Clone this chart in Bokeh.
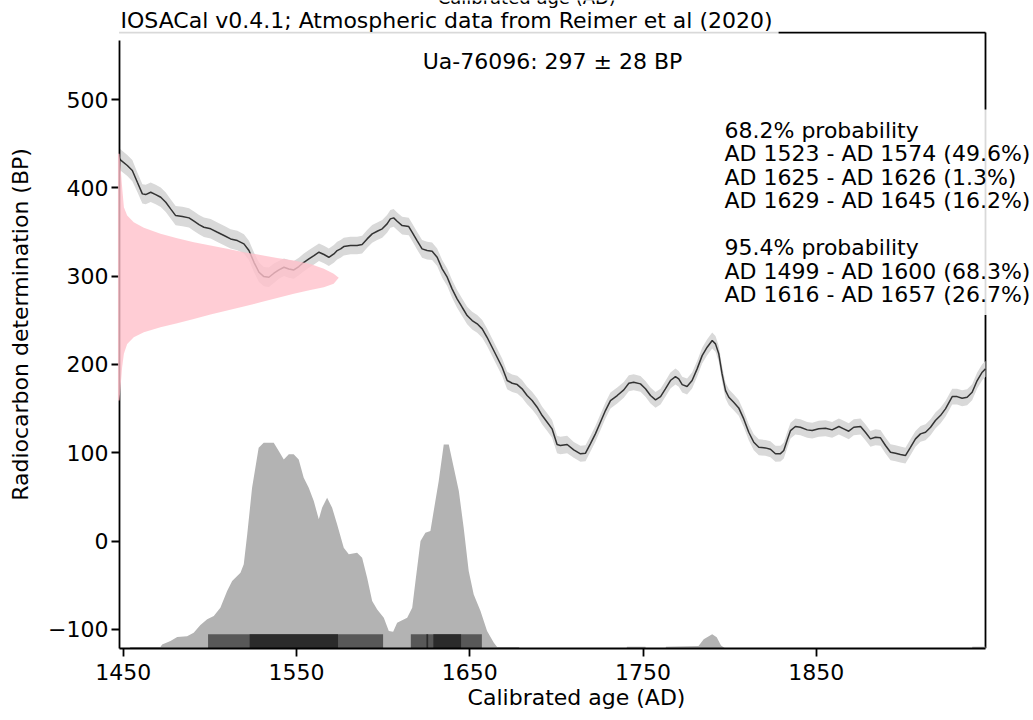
from bokeh.plotting import figure
from bokeh.models import Range1d, FixedTicker, Label, ColumnDataSource
from bokeh.embed import file_html
from bokeh.resources import INLINE

# ---------------- data ----------------
cal_year = [1448.0, 1448.6, 1452.4, 1455.3, 1458.2, 1461.1, 1463.0, 1465.9, 1468.8, 1471.7,
            1474.6, 1477.4, 1480.3, 1484.2, 1488.0, 1490.9, 1493.8, 1496.6, 1500.5, 1504.4,
            1508.2, 1512.0, 1515.9, 1519.7, 1522.6, 1525.5, 1528.4, 1531.2, 1534.1, 1537.0,
            1539.9, 1542.8, 1545.6, 1548.5, 1551.4, 1554.3, 1557.2, 1560.1, 1563.0, 1565.9,
            1568.7, 1571.6, 1573.5, 1575.5, 1577.3, 1581.2, 1585.0, 1587.9, 1590.8, 1593.7,
            1596.6, 1599.5, 1602.3, 1604.2, 1606.1, 1608.1, 1611.0, 1614.8, 1616.8, 1619.6,
            1622.5, 1625.4, 1628.3, 1631.2, 1634.1, 1637.0, 1639.8, 1642.7, 1645.6, 1648.5,
            1651.4, 1654.3, 1657.2, 1660.0, 1662.9, 1665.8, 1668.7, 1671.6, 1674.5, 1677.4,
            1680.2, 1683.1, 1686.0, 1688.9, 1691.8, 1694.7, 1697.5, 1700.4, 1702.3, 1706.2,
            1710.0, 1713.9, 1716.8, 1719.6, 1722.5, 1725.4, 1728.3, 1731.2, 1735.1, 1738.9,
            1741.8, 1744.6, 1748.5, 1751.4, 1754.3, 1757.2, 1760.1, 1762.9, 1765.8, 1768.7,
            1770.6, 1772.6, 1775.4, 1778.3, 1781.2, 1784.1, 1787.0, 1789.9, 1791.8, 1793.7,
            1795.6, 1797.6, 1799.5, 1802.3, 1805.2, 1808.1, 1811.0, 1813.9, 1816.8, 1820.6,
            1823.5, 1826.4, 1829.3, 1831.2, 1833.1, 1835.1, 1837.9, 1840.8, 1844.7, 1847.6,
            1851.4, 1855.3, 1859.1, 1863.0, 1865.8, 1868.7, 1871.6, 1875.5, 1878.3, 1881.2,
            1884.1, 1887.0, 1889.9, 1892.8, 1895.7, 1898.5, 1901.4, 1904.3, 1907.2, 1910.1,
            1913.0, 1915.9, 1918.7, 1921.6, 1924.5, 1928.4, 1931.2, 1934.1, 1937.0, 1939.9,
            1942.8, 1945.7, 1947.6]
cal_bp = [433.0, 431.4, 425.3, 419.6, 406.3, 393.2, 392.4, 395.0, 392.4, 389.4,
          383.7, 376.2, 368.6, 367.5, 366.0, 362.2, 358.4, 355.4, 353.6, 349.7,
          346.0, 342.2, 340.3, 336.6, 329.0, 315.7, 304.4, 299.5, 298.8, 303.3,
          307.1, 310.1, 308.2, 307.1, 310.9, 315.7, 319.6, 323.3, 327.1, 324.5,
          321.4, 325.2, 329.0, 330.9, 333.5, 334.7, 334.7, 335.8, 342.2, 347.9,
          350.9, 353.6, 359.2, 364.9, 366.0, 362.2, 357.3, 356.2, 349.7, 340.3,
          330.9, 329.0, 328.2, 321.4, 308.3, 298.8, 285.6, 274.3, 264.8, 255.4,
          249.7, 246.0, 240.3, 230.8, 219.5, 208.2, 196.8, 181.8, 178.7, 177.2,
          172.4, 164.8, 159.1, 151.6, 142.1, 134.6, 127.1, 109.3, 108.2, 109.3,
          103.3, 98.8, 99.5, 110.1, 121.4, 134.6, 147.8, 159.1, 164.8, 171.2,
          178.7, 179.8, 178.0, 172.4, 164.8, 159.9, 163.6, 172.4, 181.8, 186.3,
          183.7, 177.2, 175.0, 181.8, 195.0, 210.0, 219.5, 227.1, 223.3, 212.0,
          189.3, 170.4, 162.9, 157.2, 150.8, 138.3, 123.2, 111.9, 106.2, 105.5,
          104.0, 98.8, 99.0, 102.5, 113.8, 125.1, 129.7, 128.9, 125.9, 125.1,
          127.1, 127.8, 125.9, 129.7, 127.1, 124.4, 128.9, 129.7, 123.2, 115.7,
          117.6, 116.9, 108.2, 100.6, 99.5, 98.0, 96.8, 106.2, 115.7, 121.4,
          123.2, 128.9, 136.5, 142.1, 149.7, 163.6, 163.6, 161.7, 162.9, 168.5,
          181.8, 191.2, 195.0]
cal_sigma = [12, 12, 12, 12, 11, 11, 11, 11, 11, 11,
             11, 11, 11, 11, 11, 11, 11, 11, 11, 11,
             11, 11, 11, 11, 11, 11, 11, 11, 11, 11,
             10, 10, 10, 10, 10, 10, 10, 10, 10, 10,
             10, 10, 10, 10, 10, 10, 10, 10, 10, 10,
             10, 10, 10, 10, 10, 10, 10, 10, 10, 10,
             10, 10, 10, 10, 10, 10, 10, 10, 10, 10,
             10, 10, 10, 10, 10, 10, 10, 10, 10, 10,
             10, 10, 10, 10, 10, 10, 10, 10, 10, 10,
             9, 9, 9, 9, 9, 9, 9, 9, 9, 9,
             9, 9, 9, 9, 9, 9, 9, 9, 9, 9,
             9, 9, 9, 9, 9, 9, 9, 9, 9, 9,
             9, 9, 9, 9, 9, 9, 9, 9, 9, 9,
             9, 9, 9, 9, 9, 9, 9, 9, 9, 9,
             9, 9, 9, 9, 9, 9, 9, 9, 9, 9,
             9, 9, 9, 9, 9, 9, 9, 9, 9, 9,
             9, 9, 9, 9, 9, 9, 9, 9, 9, 9,
             9, 9, 9]

# calibrated probability (relative to its maximum)
dist_year = [1453.5, 1454.2, 1471.5, 1472.5, 1477.3, 1481.2, 1486.9, 1490.7, 1494.6, 1498.5,
             1502.3, 1506.1, 1510.0, 1512.9, 1517.7, 1519.6, 1521.6, 1524.4, 1526.3, 1528.2,
             1531.1, 1536.9, 1539.8, 1542.7, 1545.6, 1548.4, 1551.3, 1554.2, 1557.1, 1560.0,
             1562.9, 1564.8, 1567.7, 1570.6, 1573.5, 1577.3, 1580.2, 1585.0, 1587.9, 1590.8,
             1593.7, 1596.6, 1600.4, 1603.3, 1605.8, 1608.1, 1611.0, 1613.9, 1616.8, 1618.7,
             1621.6, 1624.4, 1627.3, 1629.2, 1632.1, 1635.0, 1637.9, 1640.8, 1643.7, 1646.5,
             1649.4, 1652.3, 1656.2, 1660.0, 1663.9, 1665.8, 1678.3, 1679.0, 1740.5, 1740.7,
             1751.4, 1751.6, 1763.0, 1763.2, 1782.0, 1785.0, 1789.9, 1792.5, 1795.0, 1797.5,
             1939.8, 1940.0, 1947.6]
dist_dens = [0.0, 0.007, 0.007, 0.020, 0.036, 0.056, 0.059, 0.077, 0.114, 0.142,
             0.158, 0.198, 0.279, 0.328, 0.368, 0.409, 0.555, 0.781, 0.879, 0.976,
             1.000, 1.000, 0.960, 0.919, 0.944, 0.944, 0.919, 0.830, 0.781, 0.717,
             0.628, 0.684, 0.733, 0.684, 0.603, 0.490, 0.458, 0.466, 0.441, 0.344,
             0.231, 0.190, 0.150, 0.085, 0.082, 0.125, 0.137, 0.150, 0.198, 0.328,
             0.522, 0.563, 0.571, 0.668, 0.814, 0.992, 0.992, 0.879, 0.765, 0.587,
             0.377, 0.263, 0.182, 0.085, 0.028, 0.007, 0.007, 0.0, 0.0, 0.008,
             0.008, 0.0, 0.0, 0.008, 0.012, 0.045, 0.069, 0.055, 0.015, 0.0,
             0.0, 0.008, 0.008]

# radiocarbon determination density (relative to its maximum)
pink_bp = [438.5, 400.7, 378.0, 368.6, 361.0, 354.7, 347.9, 342.9, 338.4, 334.7,
           330.9, 327.1, 324.1, 320.7, 317.7, 313.9, 308.3, 302.6, 298.1, 291.3,
           287.4, 284.4, 280.0, 275.4, 270.4, 265.6, 261.0, 256.5, 251.6, 246.7,
           242.1, 236.5, 230.8, 223.3, 212.0, 196.8, 159.1]
pink_dens = [0.0, 0.012, 0.020, 0.035, 0.065, 0.111, 0.187, 0.263, 0.339, 0.415,
             0.491, 0.567, 0.643, 0.719, 0.795, 0.871, 0.932, 0.977, 1.0, 0.977,
             0.932, 0.871, 0.795, 0.719, 0.643, 0.567, 0.491, 0.415, 0.339, 0.263,
             0.187, 0.111, 0.065, 0.035, 0.020, 0.012, 0.0]

hpd95_start = [1499, 1616]
hpd95_end = [1600, 1657]
hpd68_start = [1523, 1625, 1629]
hpd68_end = [1574, 1626, 1645]

x_ticks = [1450, 1550, 1650, 1750, 1850]
y_ticks = [-100, 0, 100, 200, 300, 400, 500]

sample_text = "Ua-76096: 297 \u00b1 28 BP"
title_text = "IOSACal v0.4.1; Atmospheric data from Reimer et al (2020)"
interval_lines = ["68.2% probability",
                  "AD 1523 - AD 1574 (49.6%)",
                  "AD 1625 - AD 1626 (1.3%)",
                  "AD 1629 - AD 1645 (16.2%)",
                  "",
                  "95.4% probability",
                  "AD 1499 - AD 1600 (68.3%)",
                  "AD 1616 - AD 1657 (26.7%)"]

# ---------------- styling ----------------
FONT = "DejaVu Sans"
FS = "22px"
X0, XS, XR = 1447.9, 1947.6, 1975.3      # left edge, right spine, canvas right edge
Y0, YS, YT = -121.7, 575.9, 612.2        # bottom, top spine, canvas top edge
DIST_SCALE = 233.0     # BP units for full height of the calibrated curve
BAR_H = 16.0           # BP units
PINK_SCALE = 126.5     # years for full width of the radiocarbon density

p = figure(width=1033, height=720, x_range=Range1d(X0, XR), y_range=Range1d(Y0, YT),
           output_backend="svg", toolbar_location=None,
           min_border_left=119, min_border_right=0, min_border_top=0, min_border_bottom=72)
p.grid.visible = False
p.outline_line_color = None
p.background_fill_color = "white"
p.border_fill_color = "white"

# frame lines (top and right spines)
p.segment(x0=[X0, XS], y0=[YS, Y0], x1=[XS, XS], y1=[YS, YS],
          line_color="black", line_width=1.8)

# calibration curve band + mean
lo = [m - s for m, s in zip(cal_bp, cal_sigma)]
hi = [m + s for m, s in zip(cal_bp, cal_sigma)]
p.varea(x=cal_year, y1=lo, y2=hi, fill_color="#d9d9d9", fill_alpha=1.0)
p.line(cal_year, cal_bp, line_color="#333333", line_width=1.5)

# calibrated distribution
p.varea(x=dist_year, y1=[Y0] * len(dist_year), y2=[Y0 + d * DIST_SCALE for d in dist_dens],
        fill_color="#b3b3b3")

# HPD bars
p.quad(left=hpd95_start, right=hpd95_end, bottom=Y0, top=Y0 + BAR_H,
       fill_color="#585858", line_color=None)
p.quad(left=hpd68_start, right=hpd68_end, bottom=Y0, top=Y0 + BAR_H,
       fill_color="#2b2b2b", line_color=None)

# radiocarbon determination (pink)
pink_src = ColumnDataSource(dict(y=pink_bp,
                                 x1=[X0 - 0.9] * len(pink_bp),
                                 x2=[X0 + d * PINK_SCALE for d in pink_dens]))
p.harea(y="y", x1="x1", x2="x2", source=pink_src, fill_color="#ffc0cb", fill_alpha=0.8,
        level="overlay")

# axes
for ax in (p.xaxis[0], p.yaxis[0]):
    ax.axis_line_width = 1.8
    ax.axis_line_color = "black"
    ax.major_tick_line_width = 1.8
    ax.major_tick_line_color = "black"
    ax.major_tick_out = 8
    ax.major_tick_in = 0
    ax.minor_tick_line_color = None
    ax.major_label_text_font = FONT
    ax.major_label_text_font_size = FS
    ax.major_label_text_color = "black"
    ax.axis_label_text_font = FONT
    ax.axis_label_text_font_size = FS
    ax.axis_label_text_font_style = "normal"
    ax.axis_label_text_color = "black"

p.xaxis[0].ticker = FixedTicker(ticks=x_ticks)
p.xaxis[0].bounds = (X0, XS)
p.xaxis[0].axis_label = "Calibrated age (AD)"
p.xaxis[0].major_label_standoff = 7
p.xaxis[0].axis_label_standoff = 2
p.yaxis[0].ticker = FixedTicker(ticks=y_ticks)
p.yaxis[0].bounds = (Y0, YS - 9)
p.yaxis[0].major_label_overrides = {t: (("\u2212" + str(-t)) if t < 0 else str(t)) for t in y_ticks}
p.yaxis[0].axis_label = "Radiocarbon determination (BP)"
p.yaxis[0].major_label_standoff = 3
p.yaxis[0].axis_label_standoff = 12

# texts
p.add_layout(Label(x=X0, y=YS, x_offset=-5, y_offset=31, text=title_text,
                   text_font=FONT, text_font_size=FS, text_color="black",
                   text_align="left", text_baseline="top",
                   background_fill_color="white", background_fill_alpha=0.85, padding=6))
p.add_layout(Label(x=(X0 + XS) / 2, y=YS, y_offset=-16, text=sample_text,
                   text_font=FONT, text_font_size=FS, text_color="black",
                   text_align="center", text_baseline="top"))
p.add_layout(Label(x=XS, y=YS, x_offset=-269, y_offset=-77, text="\n".join(interval_lines),
                   text_font=FONT, text_font_size=FS, text_color="black",
                   text_align="left", text_baseline="top", text_line_height=0.94,
                   background_fill_color="white", background_fill_alpha=0.85, padding=8))
p.add_layout(Label(x=X0 + 235, y=YS, y_offset=46, text="Calibrated age (AD)",
                   text_font=FONT, text_font_size="18px", text_color="black",
                   text_align="center", text_baseline="top"))

open("out.html", "w").write(file_html(p, INLINE))
